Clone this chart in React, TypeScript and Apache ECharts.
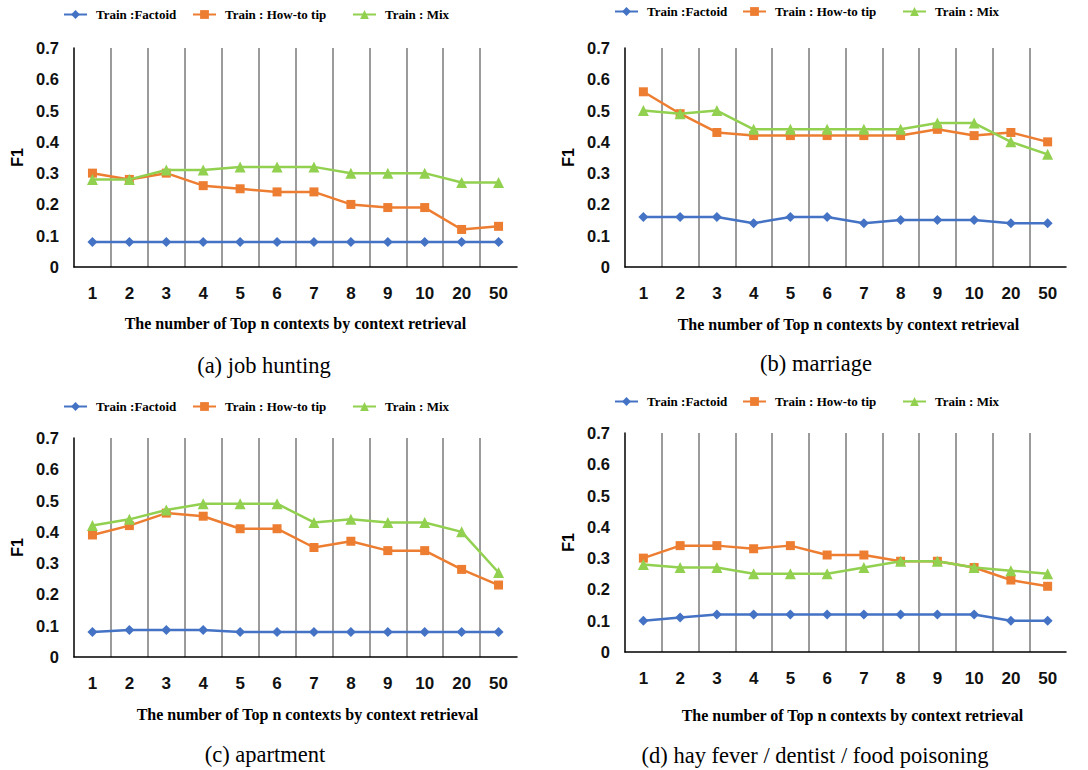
import React, { useEffect, useRef } from "react";
import * as echarts from "echarts";

const categories = ["1", "2", "3", "4", "5", "6", "7", "8", "9", "10", "20", "50"];
const seriesNames = ["Train :Factoid", "Train : How-to tip", "Train : Mix"];
const yTicks = [0, 0.1, 0.2, 0.3, 0.4, 0.5, 0.6, 0.7];

const jobFactoid = [0.08, 0.08, 0.08, 0.08, 0.08, 0.08, 0.08, 0.08, 0.08, 0.08, 0.08, 0.08];
const jobHowto = [0.3, 0.28, 0.3, 0.26, 0.25, 0.24, 0.24, 0.2, 0.19, 0.19, 0.12, 0.13];
const jobMix = [0.28, 0.28, 0.31, 0.31, 0.32, 0.32, 0.32, 0.3, 0.3, 0.3, 0.27, 0.27];

const marFactoid = [0.16, 0.16, 0.16, 0.14, 0.16, 0.16, 0.14, 0.15, 0.15, 0.15, 0.14, 0.14];
const marHowto = [0.56, 0.49, 0.43, 0.42, 0.42, 0.42, 0.42, 0.42, 0.44, 0.42, 0.43, 0.4];
const marMix = [0.5, 0.49, 0.5, 0.44, 0.44, 0.44, 0.44, 0.44, 0.46, 0.46, 0.4, 0.36];

const aptFactoid = [0.08, 0.086, 0.086, 0.086, 0.08, 0.08, 0.08, 0.08, 0.08, 0.08, 0.08, 0.08];
const aptHowto = [0.39, 0.42, 0.46, 0.45, 0.41, 0.41, 0.35, 0.37, 0.34, 0.34, 0.28, 0.23];
const aptMix = [0.42, 0.44, 0.47, 0.49, 0.49, 0.49, 0.43, 0.44, 0.43, 0.43, 0.4, 0.27];

const hayFactoid = [0.1, 0.11, 0.12, 0.12, 0.12, 0.12, 0.12, 0.12, 0.12, 0.12, 0.1, 0.1];
const hayHowto = [0.3, 0.34, 0.34, 0.33, 0.34, 0.31, 0.31, 0.29, 0.29, 0.27, 0.23, 0.21];
const hayMix = [0.28, 0.27, 0.27, 0.25, 0.25, 0.25, 0.27, 0.29, 0.29, 0.27, 0.26, 0.25];

const captions = ["(a) job hunting", "(b) marriage", "(c) apartment", "(d) hay fever / dentist / food poisoning"];
const xAxisTitle = "The number of Top n contexts by context retrieval";
const yAxisTitle = "F1";

const panelData = [
  [jobFactoid, jobHowto, jobMix],
  [marFactoid, marHowto, marMix],
  [aptFactoid, aptHowto, aptMix],
  [hayFactoid, hayHowto, hayMix],
];

const SANS = '"Liberation Sans", Arial, sans-serif';
const SERIF = '"Liberation Serif", "Times New Roman", serif';
const colors = ["#4472C4", "#ED7D31", "#92D050"];
const symbols = ["diamond", "rect", "triangle"];
const symbolSizes = [10, 9, 11];

// layout (pixels)
const grids = [
  { left: 74, top: 48, width: 443, height: 219 },
  { left: 625, top: 48, width: 441, height: 219 },
  { left: 74, top: 438, width: 443, height: 219 },
  { left: 625, top: 433, width: 441, height: 219 },
];
const legendY = [15, 12, 407, 402];
const legendX = [
  [63, 192, 352],
  [614, 742, 902],
  [63, 192, 352],
  [614, 742, 902],
];
const nameGaps = [48, 49, 49, 55];
const namePad = [0, 6, 24, 14];
const captionPos = [
  [264, 365],
  [816, 363],
  [265, 754],
  [815, 755],
];

export default function App() {
  const ref = useRef<HTMLDivElement>(null);
  useEffect(() => {
    if (!ref.current) return;
    const chart = echarts.init(ref.current, null, { renderer: "svg" });

    const grid = grids.map((g) => ({ ...g, containLabel: false, outerBoundsMode: "none" }));
    const xAxis = grids.map((_, i) => ({
      type: "category",
      gridIndex: i,
      data: categories,
      boundaryGap: true,
      axisLine: { show: true, lineStyle: { color: "#000", width: 1.5 } },
      axisTick: { show: false },
      axisLabel: { fontFamily: SANS, fontWeight: "bold", fontSize: 17, color: "#111", margin: 18, interval: 0 },
      splitLine: { show: true, showMinLine: false, showMaxLine: false, lineStyle: { color: "#7a7a7a", width: 1.5 } },
      name: xAxisTitle,
      nameLocation: "middle",
      nameGap: nameGaps[i],
      nameTextStyle: {
        fontFamily: SERIF,
        fontWeight: "bold",
        fontSize: 16,
        color: "#000",
        padding: [0, 0, 0, namePad[i]],
        verticalAlign: "top",
      },
    }));
    const yAxis = grids.map((_, i) => ({
      type: "value",
      gridIndex: i,
      min: yTicks[0],
      max: yTicks[yTicks.length - 1],
      interval: 0.1,
      axisLine: { show: true, lineStyle: { color: "#000", width: 1.5 } },
      axisTick: { show: false },
      splitLine: { show: false },
      axisLabel: {
        fontFamily: SANS,
        fontWeight: "bold",
        fontSize: 16.5,
        color: "#111",
        margin: 15,
        formatter: (v: number) => String(Math.round(v * 10) / 10),
      },
      name: yAxisTitle,
      nameLocation: "middle",
      nameGap: 49,
      nameTextStyle: { fontFamily: SANS, fontWeight: "bold", fontSize: 16, color: "#000" },
    }));

    const series: any[] = [];
    panelData.forEach((arrs, p) => {
      arrs.forEach((vals, s) => {
        series.push({
          type: "line",
          name: seriesNames[s],
          xAxisIndex: p,
          yAxisIndex: p,
          data: vals,
          symbol: symbols[s],
          symbolSize: symbolSizes[s],
          showAllSymbol: true,
          lineStyle: { color: colors[s], width: 2.5 },
          itemStyle: { color: colors[s] },
          z: 3 + s,
        });
      });
    });

    const legend: any[] = [];
    legendX.forEach((xs, p) => {
      xs.forEach((x, s) => {
        legend.push({
          left: x,
          top: legendY[p] - 7,
          padding: 0,
          data: [seriesNames[s]],
          selectedMode: false,
          itemWidth: 23,
          itemHeight: 11,
          textStyle: { fontFamily: SERIF, fontWeight: "bold", fontSize: 13, color: "#000", padding: [0, 0, 0, 4] },
        });
      });
    });

    const graphic = captions.map((c, i) => ({
      type: "text",
      x: captionPos[i][0],
      y: captionPos[i][1],
      style: {
        text: c,
        font: `22.5px ${SERIF}`,
        fill: "#000",
        align: "center",
        verticalAlign: "middle",
      },
    }));

    chart.setOption({
      animation: false,
      backgroundColor: "#fff",
      grid,
      xAxis,
      yAxis,
      series,
      legend,
      graphic,
    } as any);
    return () => chart.dispose();
  }, []);
  return <div ref={ref} style={{ position: "fixed", left: 0, top: 0, width: 1088, height: 770, background: "#fff" }} />;
}
